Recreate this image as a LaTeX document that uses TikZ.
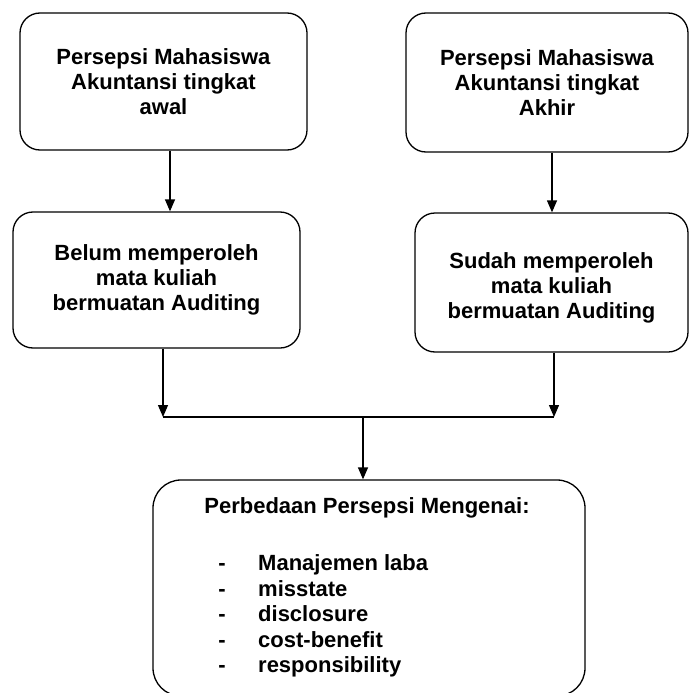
\documentclass[tikz,border=0pt]{standalone}
\usepackage{fontspec}
\setmainfont{Liberation Sans}
\usetikzlibrary{positioning, arrows.meta}

\begin{document}
\begin{tikzpicture}[x=1pt, y=-1pt,
		box/.style={
			draw,
			rounded corners=20pt,
			line width=1.3pt,
			align=center,
			inner sep=0pt,
			font=\bfseries\fontsize{22}{25}\selectfont
		},
		arr/.style={-{Triangle[width=10pt,length=12pt]}, line width=1.3pt},
		txt/.style={inner sep=0pt, font=\bfseries\fontsize{22}{25}\selectfont}]
		\useasboundingbox (0,0) rectangle (690,693);
		\node[box, minimum width=287pt, minimum height=137pt] (awal) at (163.5,81.5) {Persepsi Mahasiswa\\Akuntansi tingkat\\awal};
		\node[box, minimum width=287pt, minimum height=136pt] (belum) at (156.5,280) {Belum memperoleh\\mata kuliah\\bermuatan Auditing};
		\node[box, minimum width=282pt, minimum height=139pt] (akhir) at (547,82.5) {Persepsi Mahasiswa\\Akuntansi tingkat\\Akhir};
		\node[box, minimum width=273pt, minimum height=139pt] (sudah) at (551.5,282.5) {};
		\node[txt, align=center] (sudahtxt) at (551.5,287.5) {Sudah memperoleh\\mata kuliah\\bermuatan Auditing};
		\node[box, rounded corners=28pt, minimum width=432pt, minimum height=216pt] (beda) at (369,588) {};
		
		% isi kotak bawah
		\node[txt] (judul) at (367,508) {Perbedaan Persepsi Mengenai:};
		\foreach \item [count=\i] in {Manajemen laba, misstate, disclosure, cost-benefit, responsibility}{
			\node[txt, anchor=base] (dash\i) at (222,545+25.5*\i) {-};
			\node[txt, anchor=base west] (item\i) at (258,545+25.5*\i) {\item};
		}
		
		% titik pertemuan
		\coordinate (jl) at (163,417);
		\coordinate (jr) at (554,417);
		\coordinate (jm) at (363,417);
		
		\draw[arr] ([xshift=6.5pt]awal.south) -- ([xshift=6.5pt]awal.south |- belum.north);
		\draw[arr] ([xshift=5pt]akhir.south) -- ([xshift=5pt]akhir.south |- sudah.north);
		\draw[arr] (jl |- belum.south) -- (jl);
		\draw[arr] (jr |- sudah.south) -- (jr);
		\draw[line width=1.3pt] (jl) -- (jr);
		\draw[arr] (jm) -- (jm |- beda.north);
	\end{tikzpicture}
\end{document}
